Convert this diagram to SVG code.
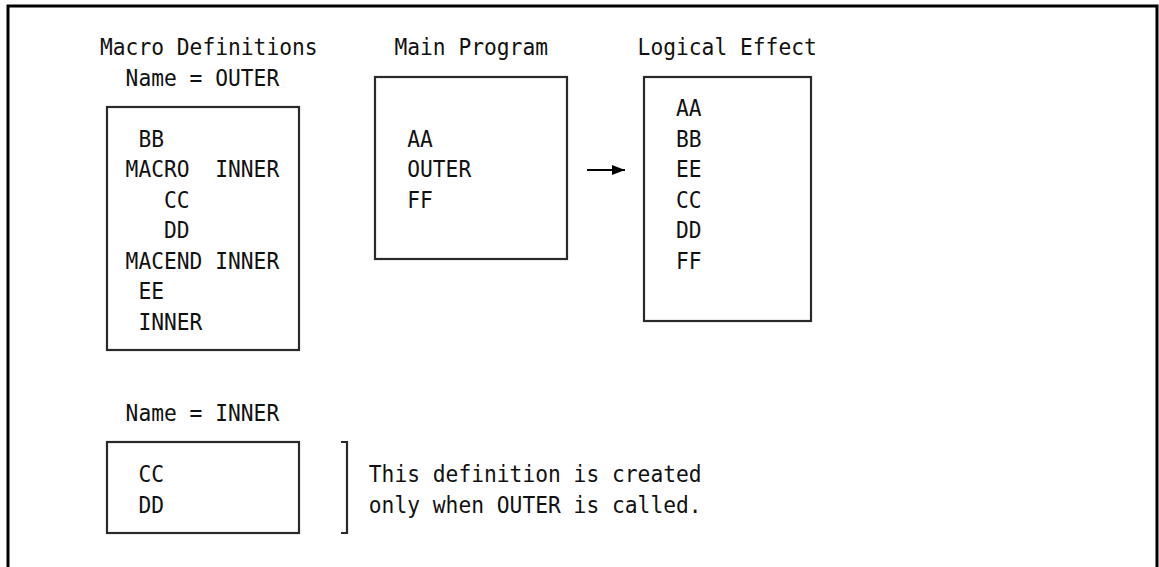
<svg xmlns="http://www.w3.org/2000/svg" width="1159" height="567" viewBox="0 0 1159 567">
  <style>
    text { font-family: "DejaVu Sans Mono", "Liberation Mono", monospace; font-size: 23.3px; fill: #111; }
    .box { fill: none; stroke: #2a2a2a; stroke-width: 2.2; }
    .frame { fill: none; stroke: #000; stroke-width: 3; }
    .conn { stroke: #000; stroke-width: 2; fill: none; }
  </style>
  <defs>
    <marker id="arrow" viewBox="0 0 13 10" refX="13" refY="5" markerWidth="13" markerHeight="10" markerUnits="userSpaceOnUse" orient="auto" preserveAspectRatio="none">
      <path d="M0,0 L13,5 L0,10 z" fill="#000"/>
    </marker>
  </defs>

  <path class="frame" d="M8,570 L8,6 L1157,6 L1157,570"/>

  <g id="outer-definition">
    <text x="100" y="55" textLength="217.6" lengthAdjust="spacingAndGlyphs">Macro Definitions</text>
    <text x="125.6" y="85.5" textLength="153.6" lengthAdjust="spacingAndGlyphs">Name = OUTER</text>
    <rect class="box" x="107" y="107" width="192" height="243"/>
    <text x="138.4" y="146.5" textLength="25.6" lengthAdjust="spacingAndGlyphs">BB</text>
    <text x="125.6" y="177" textLength="64" lengthAdjust="spacingAndGlyphs">MACRO</text>
    <text x="215.2" y="177" textLength="64" lengthAdjust="spacingAndGlyphs">INNER</text>
    <text x="164" y="207.5" textLength="25.6" lengthAdjust="spacingAndGlyphs">CC</text>
    <text x="164" y="238" textLength="25.6" lengthAdjust="spacingAndGlyphs">DD</text>
    <text x="125.6" y="268.5" textLength="76.8" lengthAdjust="spacingAndGlyphs">MACEND</text>
    <text x="215.2" y="268.5" textLength="64" lengthAdjust="spacingAndGlyphs">INNER</text>
    <text x="138.4" y="299" textLength="25.6" lengthAdjust="spacingAndGlyphs">EE</text>
    <text x="138.4" y="329.5" textLength="64" lengthAdjust="spacingAndGlyphs">INNER</text>
  </g>

  <g id="main-program">
    <text x="394.4" y="55" textLength="153.6" lengthAdjust="spacingAndGlyphs">Main Program</text>
    <rect class="box" x="375" y="77" width="192" height="182"/>
    <text x="407.2" y="146.5" textLength="25.6" lengthAdjust="spacingAndGlyphs">AA</text>
    <text x="407.2" y="177" textLength="64" lengthAdjust="spacingAndGlyphs">OUTER</text>
    <text x="407.2" y="207.5" textLength="25.6" lengthAdjust="spacingAndGlyphs">FF</text>
  </g>

  <g id="logical-effect">
    <text x="637.6" y="55" textLength="179.2" lengthAdjust="spacingAndGlyphs">Logical Effect</text>
    <rect class="box" x="644" y="77" width="167" height="244"/>
    <text x="676" y="116" textLength="25.6" lengthAdjust="spacingAndGlyphs">AA</text>
    <text x="676" y="146.5" textLength="25.6" lengthAdjust="spacingAndGlyphs">BB</text>
    <text x="676" y="177" textLength="25.6" lengthAdjust="spacingAndGlyphs">EE</text>
    <text x="676" y="207.5" textLength="25.6" lengthAdjust="spacingAndGlyphs">CC</text>
    <text x="676" y="238" textLength="25.6" lengthAdjust="spacingAndGlyphs">DD</text>
    <text x="676" y="268.5" textLength="25.6" lengthAdjust="spacingAndGlyphs">FF</text>
  </g>

  <g id="inner-definition">
    <text x="125.6" y="421" textLength="153.6" lengthAdjust="spacingAndGlyphs">Name = INNER</text>
    <rect class="box" x="107" y="442" width="192" height="91"/>
    <text x="138.4" y="482" textLength="25.6" lengthAdjust="spacingAndGlyphs">CC</text>
    <text x="138.4" y="512.5" textLength="25.6" lengthAdjust="spacingAndGlyphs">DD</text>
  </g>

  <g id="note">
    <path class="box" d="M341,442 L347,442 L347,533 L341,533"/>
    <text x="368.8" y="482" textLength="332.8" lengthAdjust="spacingAndGlyphs">This definition is created</text>
    <text x="368.8" y="512.5" textLength="332.8" lengthAdjust="spacingAndGlyphs">only when OUTER is called.</text>
  </g>

  <g id="connectors">
    <line class="conn" x1="587" y1="170" x2="625" y2="170" marker-end="url(#arrow)"/>
  </g>
</svg>
